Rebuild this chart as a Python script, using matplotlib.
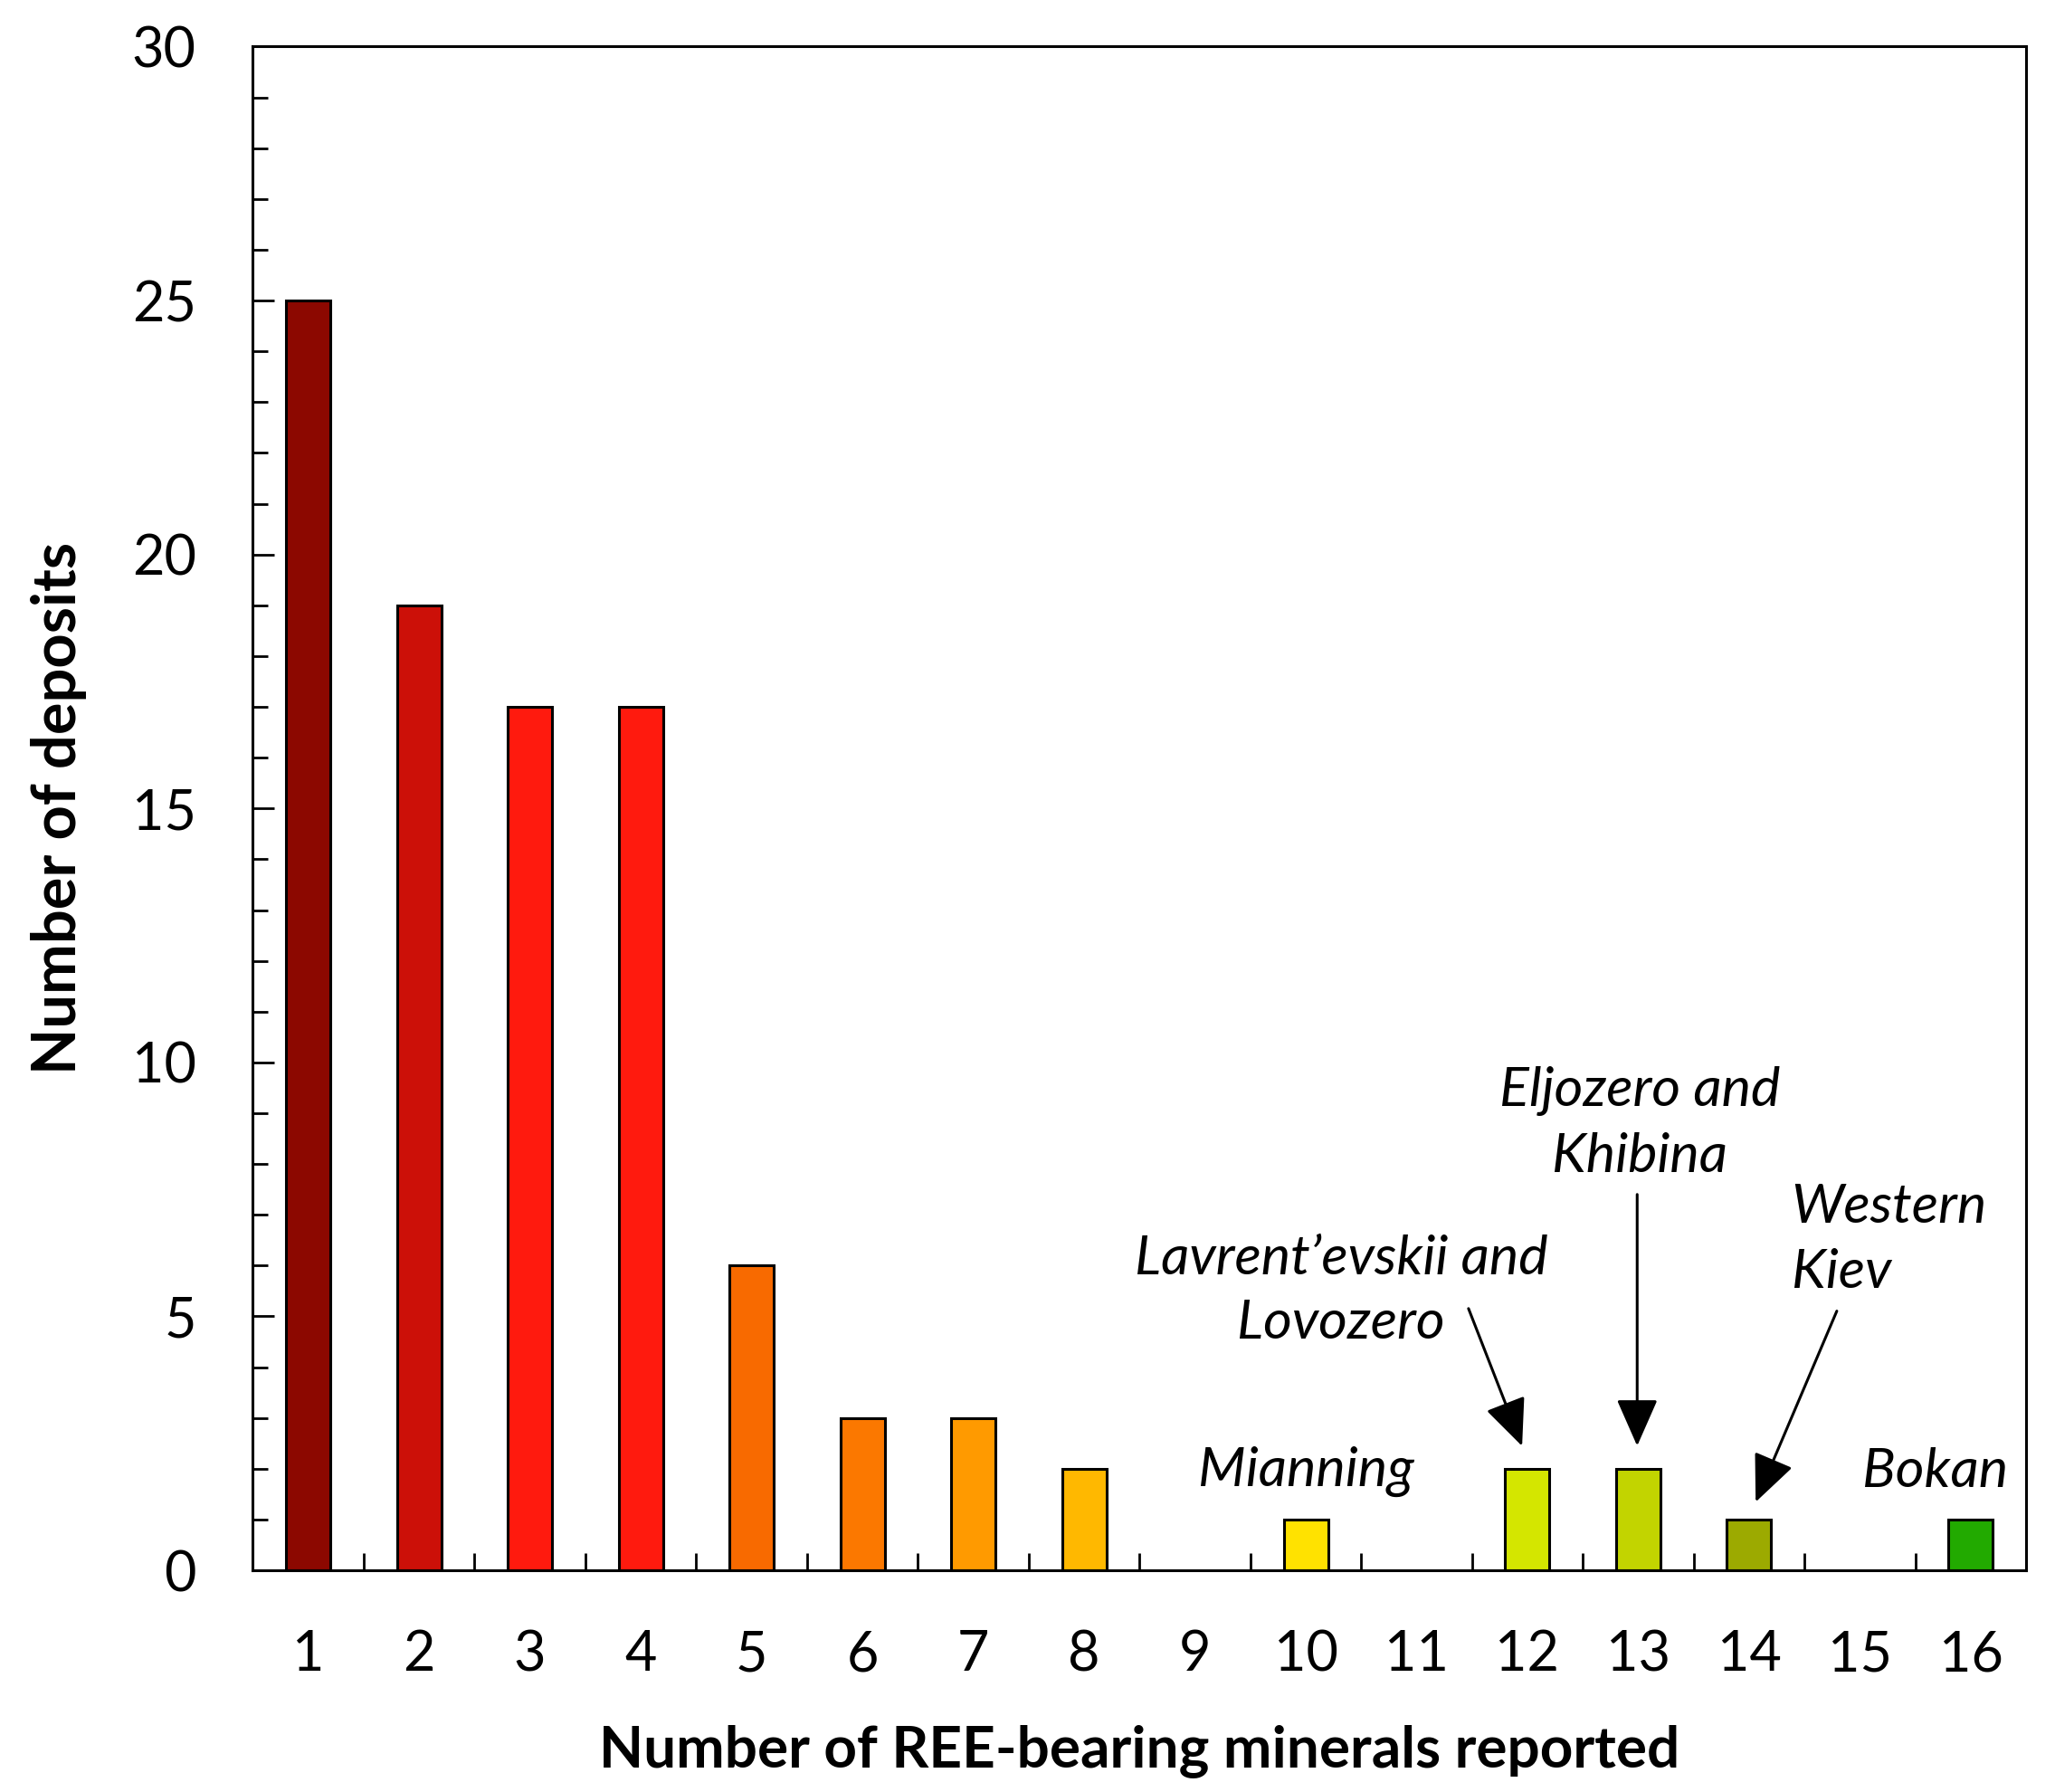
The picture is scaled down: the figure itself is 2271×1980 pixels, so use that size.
import matplotlib
matplotlib.use("Agg")
import matplotlib.pyplot as plt
from matplotlib.ticker import MultipleLocator, FixedLocator

# data
n_minerals = ['1', '2', '3', '4', '5', '6', '7', '8', '9', '10', '11', '12', '13', '14', '15', '16']
n_deposits = [25, 19, 17, 17, 6, 3, 3, 2, 0, 1, 0, 2, 2, 1, 0, 1]
bar_colors = ['#8c0800', '#cc1008', '#ff1a0e', '#ff1a0e', '#f86a00', '#fb7800',
              '#ff9a00', '#ffb800', '#ffffff', '#ffe200', '#ffffff', '#d4e600',
              '#c2d400', '#9caa00', '#ffffff', '#22aa00']

plt.rcParams['font.family'] = ['Lato', 'DejaVu Sans']

fig = plt.figure(figsize=(22.71, 19.8), dpi=100)
ax = fig.add_axes([0.123, 0.1237, 0.863, 0.8503])

x = list(range(len(n_minerals)))
for xi, v, c in zip(x, n_deposits, bar_colors):
    if v > 0:
        ax.bar(xi, v, width=0.4, color=c, edgecolor='black', linewidth=2.2)

ax.set_xlim(-0.5, len(n_minerals) - 0.5)
ax.set_ylim(0, 30)

# ticks
ax.set_xticks(x)
ax.set_xticklabels(n_minerals)
ax.xaxis.set_minor_locator(FixedLocator([i + 0.5 for i in x[:-1]]))
ax.tick_params(axis='x', which='major', length=0, pad=47, labelsize=44)
ax.tick_params(axis='x', which='minor', direction='in', length=14, width=2)
ax.yaxis.set_major_locator(MultipleLocator(5))
ax.yaxis.set_minor_locator(MultipleLocator(1))
ax.tick_params(axis='y', which='major', direction='in', length=17, width=2, pad=45, labelsize=44)
ax.tick_params(axis='y', which='minor', direction='in', length=12, width=2)
for s in ax.spines.values():
    s.set_linewidth(2.2)

ax.set_xlabel('Number of REE-bearing minerals reported', fontsize=46, fontweight='bold', labelpad=34)
ax.set_ylabel('Number of deposits', fontsize=48, fontweight='bold', labelpad=36)

# annotations
tkw = dict(fontsize=44, style='italic', ha='center', va='center', linespacing=1.4)
ax.text(9.0, 1.95, 'Mianning', **tkw)
ax.text(14.68, 1.95, 'Bokan', **tkw)

aprops = dict(arrowstyle='-|>,head_length=0.5,head_width=0.22', color='black', lw=2.2, mutation_scale=65)
ax.annotate('', xy=(10.96, 2.4), xytext=(10.46, 5.2), arrowprops=aprops)
ax.text(9.32, 5.5, 'Lavrent\u2019evskii and\nLovozero', **tkw)

ax.annotate('', xy=(11.99, 2.4), xytext=(11.99, 7.45), arrowprops=aprops)
ax.text(12.01, 8.8, 'Eljozero and\nKhibina', **tkw)

ax.annotate('', xy=(13.05, 1.3), xytext=(13.8, 5.15), arrowprops=aprops)
ax.text(13.38, 6.5, 'Western\nKiev', fontsize=44, style='italic', ha='left', va='center', linespacing=1.4)

fig.savefig('out.png', dpi=100, facecolor='white')
